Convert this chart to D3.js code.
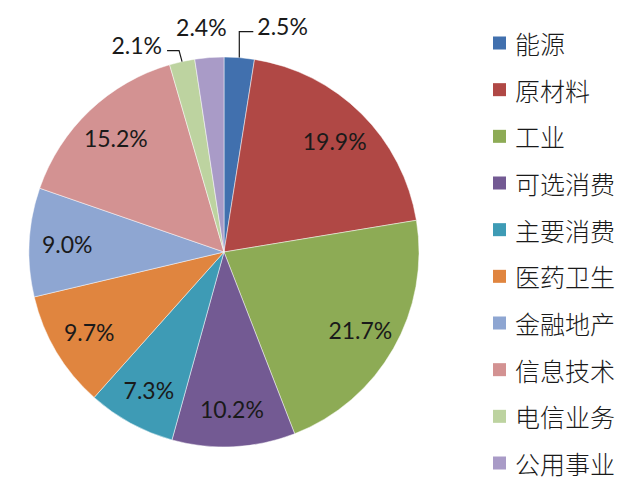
<!DOCTYPE html>
<html>
<head>
<meta charset="utf-8">
<script src="https://cdn.jsdelivr.net/npm/d3@7"></script>
<style>
  body { margin: 0; background: #fff; }
  svg { display: block; }
  .pct { font-family: Lato, "Liberation Sans", sans-serif; font-size: 23px; fill: #1a1a1a; }
  .legend text { font-family: "Noto Sans CJK SC", sans-serif; font-size: 25px; font-weight: 300; fill: #1a1a1a; }
</style>
</head>
<body>
<svg id="chart" width="640" height="480"></svg>
<script>
var sectors = ['能源', '原材料', '工业', '可选消费', '主要消费', '医药卫生', '金融地产', '信息技术', '电信业务', '公用事业'];
var shares = [2.5, 19.9, 21.7, 10.2, 7.3, 9.7, 9.0, 15.2, 2.1, 2.4];
var colors = ['#4170ae', '#b04845', '#8dab55', '#735a93', '#3e9bb5', '#e0853f', '#8ea6d2', '#d39292', '#bdd3a0', '#a99bc7'];

var width = 640, height = 480;
var cx = 224, cy = 252, radius = 195;

var svg = d3.select('#chart');

var data = sectors.map(function(name, i) {
  return {name: name, value: shares[i], color: colors[i]};
});

var pie = d3.pie().sort(null).value(function(d) { return d.value; });
var arcs = pie(data);

var arc = d3.arc().innerRadius(0).outerRadius(radius);
var labelArc = d3.arc().innerRadius(radius * 0.805).outerRadius(radius * 0.805);
var edgeArc = d3.arc().innerRadius(radius).outerRadius(radius);

var g = svg.append('g').attr('transform', 'translate(' + cx + ',' + cy + ')');

g.selectAll('path.slice')
  .data(arcs)
  .enter().append('path')
  .attr('class', 'slice')
  .attr('d', arc)
  .attr('fill', function(d) { return d.data.color; })
  .attr('stroke', '#fff')
  .attr('stroke-width', 0.8)
  .attr('stroke-opacity', 0.6);

// small slices get their labels outside, some with a leader line
var outside = {
  0: {leader: [[0, -26], [14, 0]], anchor: 'start', dx: 4, dy: -6},
  8: {leader: [[-3, -11], [-12, 0]], anchor: 'end', dx: -5, dy: -6},
  9: {leader: null, anchor: 'middle', off: [-8, -31]}
};

function fmt(v) { return d3.format('.1f')(v) + '%'; }

arcs.forEach(function(d, i) {
  var opt = outside[i];
  if (!opt) {
    var c = labelArc.centroid(d);
    g.append('text').attr('class', 'pct')
      .attr('x', c[0]).attr('y', c[1])
      .attr('text-anchor', 'middle')
      .attr('dominant-baseline', 'central')
      .text(fmt(d.data.value));
    return;
  }
  var p = edgeArc.centroid(d);
  if (!opt.leader) {
    g.append('text').attr('class', 'pct')
      .attr('x', p[0] + opt.off[0]).attr('y', p[1] + opt.off[1])
      .attr('text-anchor', opt.anchor)
      .attr('dominant-baseline', 'central')
      .text(fmt(d.data.value));
    return;
  }
  var pts = [p];
  opt.leader.forEach(function(s) {
    var last = pts[pts.length - 1];
    pts.push([last[0] + s[0], last[1] + s[1]]);
  });
  g.append('path')
    .attr('d', d3.line()(pts))
    .attr('fill', 'none')
    .attr('stroke', '#1a1a1a')
    .attr('stroke-width', 1.2);
  var end = pts[pts.length - 1];
  g.append('text').attr('class', 'pct')
    .attr('x', end[0] + opt.dx).attr('y', end[1] + opt.dy)
    .attr('text-anchor', opt.anchor)
    .attr('dominant-baseline', 'central')
    .text(fmt(d.data.value));
});

// legend
var rowY = d3.scalePoint().domain(sectors).range([43, 463]);

var legend = svg.append('g').attr('class', 'legend');
var rows = legend.selectAll('g.row')
  .data(data)
  .enter().append('g')
  .attr('class', 'row')
  .attr('transform', function(d) { return 'translate(493,' + rowY(d.name) + ')'; });

rows.append('rect')
  .attr('x', 0).attr('y', -6.5)
  .attr('width', 13).attr('height', 13)
  .attr('fill', function(d) { return d.color; });

rows.append('text')
  .attr('x', 22).attr('y', 0)
  .attr('dominant-baseline', 'central')
  .text(function(d) { return d.name; });
</script>
</body>
</html>
